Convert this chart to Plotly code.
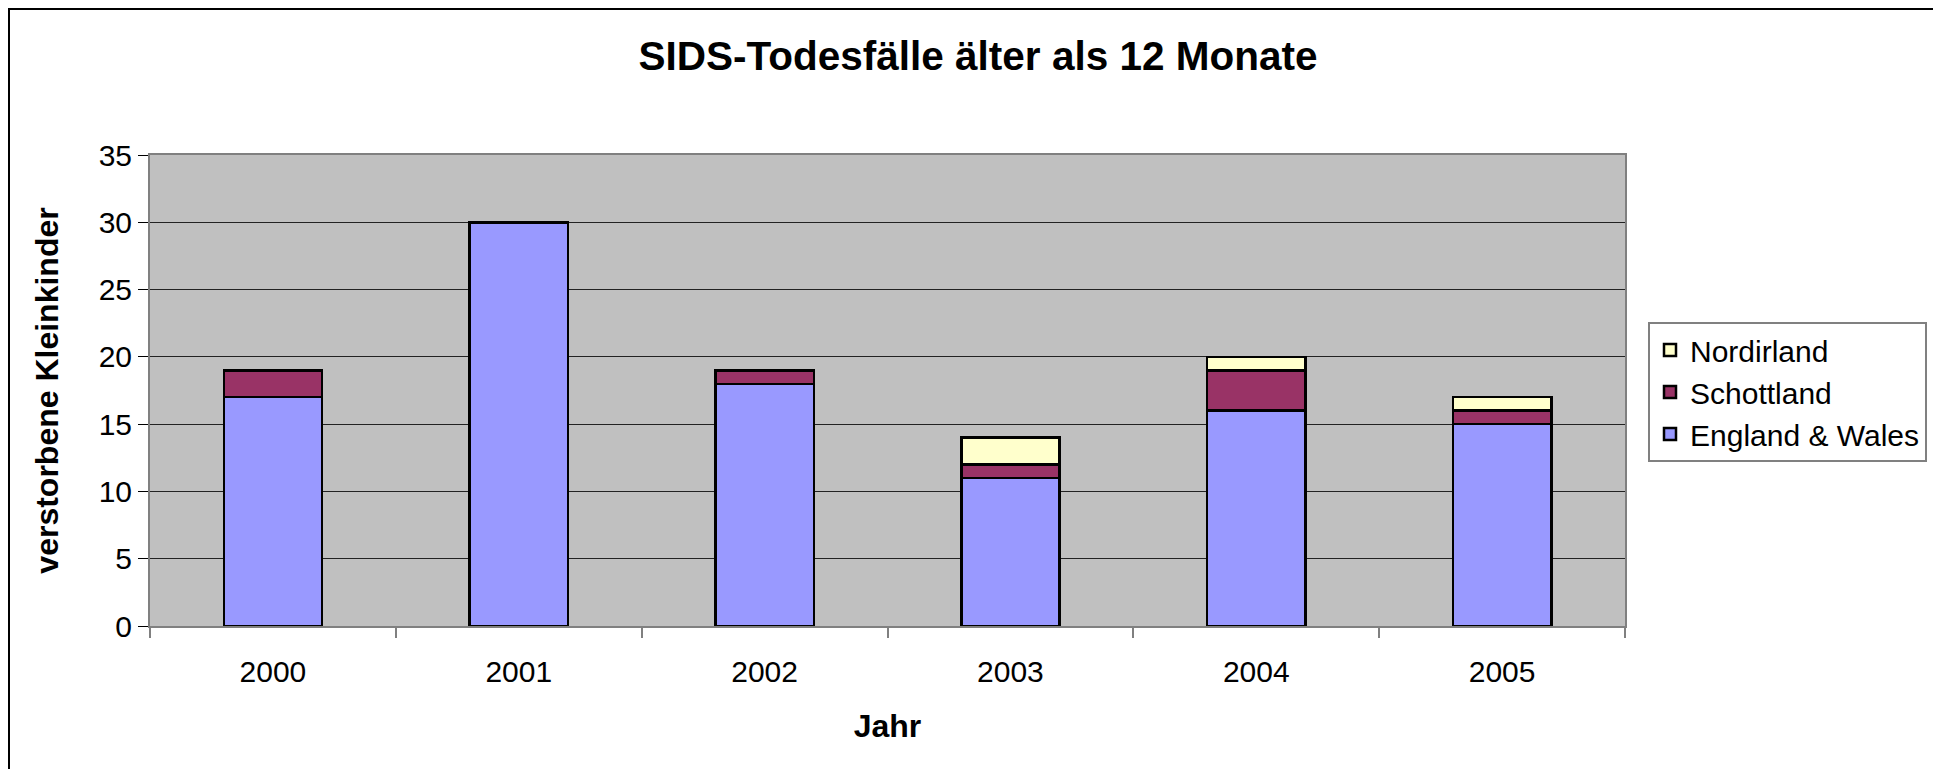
import plotly.graph_objects as go

years = ['2000', '2001', '2002', '2003', '2004', '2005']
england_wales = [17, 30, 18, 11, 16, 15]
schottland = [2, 0, 1, 1, 3, 1]
nordirland = [0, 0, 0, 2, 1, 1]

series = [
    ('England & Wales', england_wales, '#9999FF'),
    ('Schottland', schottland, '#993366'),
    ('Nordirland', nordirland, '#FFFFCC'),
]

font_family = 'Liberation Sans, Arial, sans-serif'

# page body has an 8px margin, so layout numbers are shifted by it
fig = go.Figure()
for name, vals, color in series:
    fig.add_trace(go.Bar(
        x=years, y=vals, name=name,
        marker=dict(color=color, line=dict(color='black', width=2.5)),
    ))

fig.update_layout(
    width=1941, height=769,
    margin=dict(l=142, r=324, t=147, b=151),
    barmode='stack', bargap=0.6,
    paper_bgcolor='white', plot_bgcolor='#C0C0C0',
    font=dict(family=font_family, size=30, color='black'),
    title=dict(text='SIDS-Todesfälle älter als 12 Monate',
               font=dict(size=40.5, weight='bold'),
               x=970 / 1941, xanchor='center', y=1 - 48 / 769, yanchor='middle'),
    legend=dict(
        x=(1648 - 150) / 1475, xanchor='left',
        y=(626 - 322) / 471, yanchor='top',
        traceorder='reversed',
        bgcolor='white', bordercolor='#808080', borderwidth=2,
        font=dict(size=30),
    ),
    showlegend=True,
)

fig.update_xaxes(
    type='category', tickson='boundaries',
    ticks='outside', ticklen=10, tickcolor='#808080', tickwidth=2,
    ticklabelstandoff=18,
    showline=True, linecolor='#808080', linewidth=2, mirror=True,
    showgrid=False,
    title=dict(text='Jahr', font=dict(size=32, weight='bold'), standoff=28),
)
fig.update_yaxes(
    range=[0, 35], dtick=5,
    ticks='outside', ticklen=10, tickcolor='black', tickwidth=1,
    ticklabelstandoff=0,
    showline=True, linecolor='#808080', linewidth=2, mirror=True,
    showgrid=True, gridcolor='#222222', gridwidth=1,
    zeroline=False,
    title=dict(text='verstorbene Kleinkinder', font=dict(size=32, weight='bold'), standoff=30),
)

# outer chart border along the top-left corner of the figure
# (right and bottom edges run off the picture)
fig.add_shape(type='rect', xref='paper', yref='paper',
              x0=(1 - 142) / 1475, x1=1.4, y0=-0.5, y1=(618 - 1) / 471,
              line=dict(color='black', width=2), layer='below')

fig.write_html('out.html')
